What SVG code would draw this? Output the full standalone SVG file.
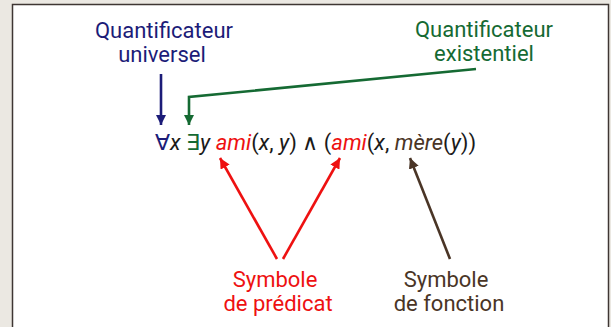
<svg xmlns="http://www.w3.org/2000/svg" width="611" height="327" viewBox="0 0 611 327">
<defs>
<marker id="mB" viewBox="0 0 10 10" refX="10" refY="5" markerWidth="4" markerHeight="4" orient="auto" markerUnits="strokeWidth"><path d="M0,0 L10,5 L0,10 z" fill="#1c1c78"/></marker>
<marker id="mG" viewBox="0 0 10 10" refX="10" refY="5" markerWidth="4" markerHeight="4" orient="auto" markerUnits="strokeWidth"><path d="M0,0 L10,5 L0,10 z" fill="#156a33"/></marker>
<marker id="mR" viewBox="0 0 10 10" refX="10" refY="5" markerWidth="4" markerHeight="4" orient="auto" markerUnits="strokeWidth"><path d="M0,0 L10,5 L0,10 z" fill="#ee1111"/></marker>
<marker id="mN" viewBox="0 0 10 10" refX="10" refY="5" markerWidth="4" markerHeight="4" orient="auto" markerUnits="strokeWidth"><path d="M0,0 L10,5 L0,10 z" fill="#4a3526"/></marker>
</defs>
<style>
text{font-family:Roboto,"Liberation Sans",sans-serif;font-size:22px}
.lbl{text-anchor:middle}
.blue{fill:#1c1c78}.green{fill:#156a33}.red{fill:#ee1111}.brown{fill:#4a3526}.blk{fill:#1a1a1a}
.it{font-style:italic}
.c{fill:none;stroke-width:2.6}
</style>
<rect x="0" y="0" width="611" height="327" fill="#ebe8e2"/>
<rect x="12.5" y="4.5" width="596" height="340" fill="#ffffff" stroke="#3e3633" stroke-width="1.5"/>
<g id="n-univ"><text class="lbl blue" x="164" y="38">Quantificateur</text><text class="lbl blue" x="162" y="62">universel</text></g>
<g id="n-exist"><text class="lbl green" x="484" y="37">Quantificateur</text><text class="lbl green" x="484" y="61">existentiel</text></g>
<g id="n-formula"><text y="150" class="blk"><tspan x="155" class="blue">∀</tspan><tspan class="it">x</tspan> <tspan class="green">∃</tspan><tspan class="it">y</tspan> <tspan class="it red">ami</tspan>(<tspan class="it">x</tspan>, <tspan class="it">y</tspan>) ∧ (<tspan class="it red">ami</tspan>(<tspan class="it">x</tspan>, <tspan class="it brown">mère</tspan>(<tspan class="it">y</tspan>))</text></g>
<g id="n-pred"><text class="lbl red" x="275" y="287">Symbole</text><text class="lbl red" x="278" y="311">de prédicat</text></g>
<g id="n-fonc"><text class="lbl brown" x="446" y="287">Symbole</text><text class="lbl brown" x="449" y="311">de fonction</text></g>
<g id="connectors">
<path class="c" stroke="#1c1c78" d="M161,74 V125" marker-end="url(#mB)"/>
<path class="c" stroke="#156a33" d="M476,69 L189,97 V125" marker-end="url(#mG)"/>
<path class="c" stroke="#ee1111" d="M277,259 L220,158" marker-end="url(#mR)"/>
<path class="c" stroke="#ee1111" d="M283,259 L340,158" marker-end="url(#mR)"/>
<path class="c" stroke="#4a3526" d="M450,259 L410,158" marker-end="url(#mN)"/>
</g>
</svg>
